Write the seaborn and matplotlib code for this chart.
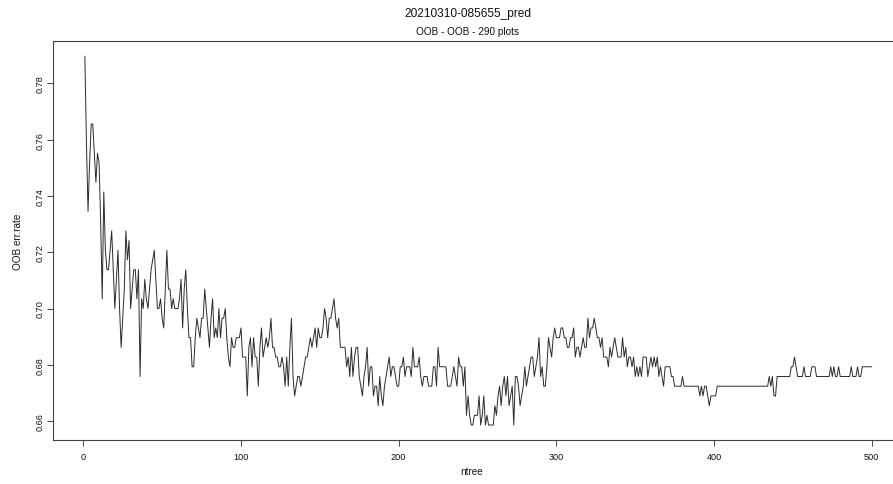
import numpy as np
import pandas as pd
import matplotlib
matplotlib.use("Agg")
import matplotlib.pyplot as plt
import seaborn as sns

# Random forest out-of-bag error by number of trees.
# Values are misclassified OOB plots; the error rate is count / n_plots.
n_plots = 290
oob_miss = [
    229, 220, 213, 218, 222, 222, 219, 216, 219, 218, 212, 204, 215, 209, 207, 207, 209, 211, 207, 203,   # 1-20
    206, 209, 203, 199, 202, 205, 211, 208, 210, 203, 205, 207, 207, 204, 207, 196, 204, 203, 206, 204,   # 21-40
    203, 205, 207, 208, 209, 206, 203, 203, 204, 202, 201, 205, 209, 205, 205, 203, 204, 203, 203, 203,   # 41-60
    204, 206, 201, 205, 207, 203, 200, 200, 197, 197, 200, 202, 201, 200, 202, 202, 205, 203, 201, 199,   # 61-80
    202, 204, 200, 201, 200, 203, 200, 202, 202, 203, 200, 198, 197, 200, 199, 199, 200, 200, 200, 201,   # 81-100
    198, 198, 198, 194, 199, 200, 197, 200, 198, 198, 195, 199, 201, 198, 199, 200, 199, 200, 202, 199,   # 101-120
    199, 198, 198, 197, 197, 198, 197, 195, 198, 195, 199, 202, 196, 194, 195, 196, 196, 195, 196, 197,   # 121-140
    198, 198, 199, 200, 199, 200, 201, 199, 201, 200, 200, 201, 203, 202, 200, 202, 202, 203, 204, 202,   # 141-160
    201, 202, 199, 199, 199, 199, 197, 198, 196, 199, 196, 198, 199, 199, 196, 195, 194, 196, 197, 199,   # 161-180
    195, 197, 197, 194, 195, 195, 193, 196, 194, 193, 195, 196, 197, 198, 196, 197, 197, 196, 195, 195,   # 181-200
    197, 197, 198, 196, 197, 197, 197, 196, 199, 197, 197, 197, 198, 196, 195, 196, 196, 196, 195, 195,   # 201-220
    195, 197, 197, 195, 199, 197, 197, 197, 197, 197, 195, 195, 195, 196, 197, 196, 195, 198, 197, 197,   # 221-240
    195, 197, 192, 194, 192, 191, 191, 192, 192, 192, 194, 191, 192, 194, 191, 192, 191, 191, 191, 191,   # 241-260
    193, 192, 194, 195, 193, 195, 196, 194, 196, 193, 194, 195, 191, 196, 196, 195, 193, 194, 195, 197,   # 261-280
    195, 196, 197, 198, 198, 196, 197, 198, 200, 196, 197, 195, 195, 197, 200, 199, 198, 200, 201, 200,   # 281-300
    200, 200, 201, 201, 200, 200, 199, 199, 200, 200, 201, 198, 199, 199, 198, 199, 200, 199, 199, 202,   # 301-320
    200, 201, 201, 202, 201, 200, 200, 199, 200, 198, 198, 198, 197, 199, 198, 199, 200, 199, 198, 198,   # 321-340
    198, 200, 198, 199, 197, 198, 198, 197, 198, 196, 197, 196, 197, 196, 198, 198, 198, 196, 197, 198,   # 341-360
    197, 198, 197, 198, 196, 197, 196, 195, 197, 197, 197, 197, 196, 196, 195, 195, 195, 195, 195, 196,   # 361-380
    195, 195, 195, 195, 195, 195, 195, 195, 195, 195, 194, 195, 194, 195, 195, 194, 193, 194, 194, 194,   # 381-400
    194, 195, 195, 195, 195, 195, 195, 195, 195, 195, 195, 195, 195, 195, 195, 195, 195, 195, 195, 195,   # 401-420
    195, 195, 195, 195, 195, 195, 195, 195, 195, 195, 195, 195, 195, 195, 196, 195, 196, 194, 194, 196,   # 421-440
    196, 196, 196, 196, 196, 196, 196, 196, 197, 197, 198, 197, 196, 196, 196, 196, 197, 196, 196, 196,   # 441-460
    196, 197, 197, 197, 196, 196, 196, 196, 196, 196, 196, 196, 196, 197, 196, 197, 196, 196, 197, 196,   # 461-480
    196, 196, 196, 196, 196, 196, 197, 196, 196, 196, 197, 196, 196, 197, 197, 197, 197, 197, 197, 197,   # 481-500
]

title_main = "20210310-085655_pred"
title_sub = "OOB - OOB - 290 plots"
x_label = "ntree"
y_label = "OOB err.rate"
x_ticks = [0, 100, 200, 300, 400, 500]
y_ticks = [0.66, 0.68, 0.70, 0.72, 0.74, 0.76, 0.78]
y_tick_labels = ["0.66", "0.68", "0.70", "0.72", "0.74", "0.76", "0.78"]

sns.set_theme(style="white")
plt.rcParams["font.family"] = ["Liberation Sans", "DejaVu Sans"]

df = pd.DataFrame({
    "ntree": np.arange(1, len(oob_miss) + 1),
    "err": np.asarray(oob_miss, dtype=float) / n_plots,
})

W, H = 893, 485
fig = plt.figure(figsize=(W / 100, H / 100), dpi=100)
fig.patch.set_facecolor("white")

# plot region in pixels (the right side runs past the canvas edge)
left_px, right_px, top_px, bottom_px = 53.4, 903.2, 42.3, 440.8
ax = fig.add_axes([left_px / W, 1 - bottom_px / H,
                   (right_px - left_px) / W, (bottom_px - top_px) / H])
ax.set_facecolor("white")

sns.lineplot(data=df, x="ntree", y="err", ax=ax, color="#2b2b2b",
             linewidth=0.7, estimator=None, legend=False)

# base-R style 4% axis padding
x0, x1 = df["ntree"].min(), df["ntree"].max()
xpad = 0.04 * (x1 - x0)
ax.set_xlim(x0 - xpad, x1 + xpad)
y0, y1 = df["err"].min(), df["err"].max()
ypad = 0.04 * (y1 - y0)
ax.set_ylim(y0 - ypad, y1 + ypad)

ax.set_xticks(x_ticks)
ax.set_xticklabels([str(v) for v in x_ticks])
ax.set_yticks(y_ticks)
ax.set_yticklabels(y_tick_labels)
for lbl in ax.get_yticklabels():
    lbl.set_rotation(90)
    lbl.set_va("center")

ax.tick_params(axis="both", which="major", direction="out", length=4,
               width=0.7, color="#444444", labelsize=6.6, labelcolor="#111111",
               bottom=True, left=True, top=False, right=False)
ax.tick_params(axis="x", pad=4.5)
ax.tick_params(axis="y", pad=2.6)
ax.set_xlabel("")
ax.set_ylabel("")
for sp in ax.spines.values():
    sp.set_visible(True)
    sp.set_color("#444444")
    sp.set_linewidth(0.8)
ax.grid(False)

fig.text(468 / W, 1 - 14 / H, title_main, ha="center", va="center",
         fontsize=8.6, color="#111111")
fig.text(468 / W, 1 - 32 / H, title_sub, ha="center", va="center",
         fontsize=7.2, color="#111111")
fig.text(472 / W, 1 - 472 / H, x_label, ha="center", va="center",
         fontsize=7.2, color="#111111")
fig.text(18 / W, 1 - 241.5 / H, y_label, ha="center", va="center",
         rotation=90, fontsize=7.2, color="#111111")

fig.savefig("out.png", dpi=100, facecolor="white")
